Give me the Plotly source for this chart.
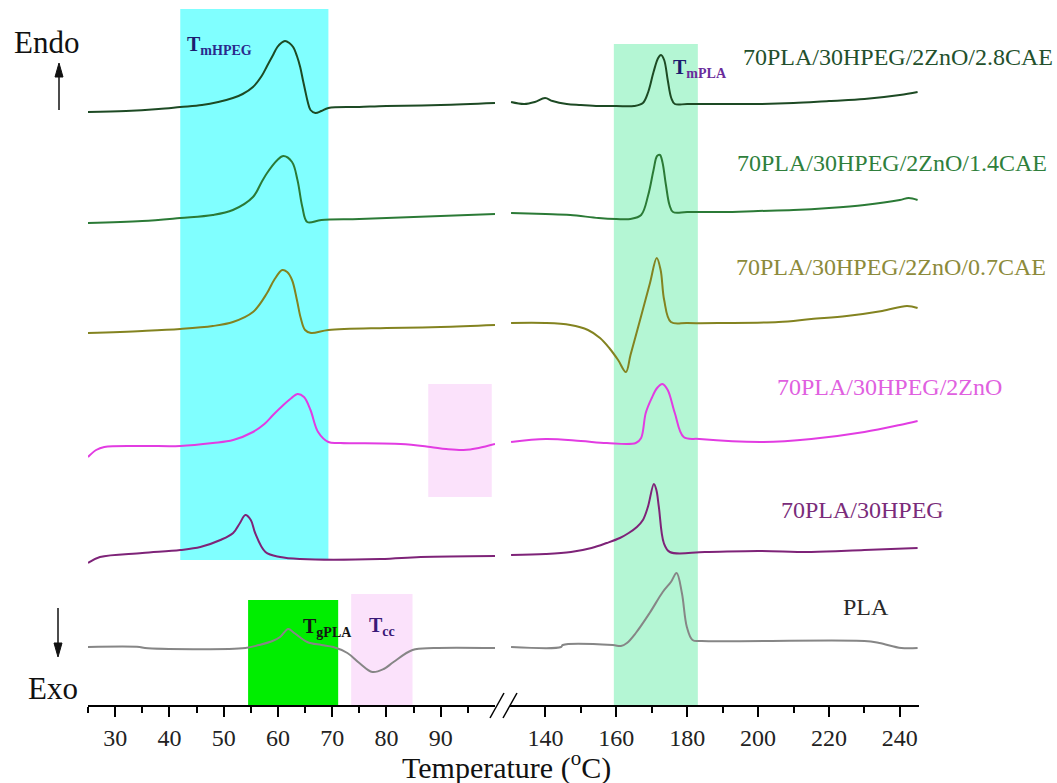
import plotly.graph_objects as go

W, H = 1057, 783

# ---- DSC heating curves (heat flow, a.u., stacked with vertical offsets) ----
# low-temperature segment (25-100 °C) and high-temperature segment (130-245 °C)

t_low_28cae = [25, 32, 38, 42, 46, 49, 51.7, 53.5, 55.4, 57, 58, 59, 59.9, 60.6, 61.3, 62.1, 62.8,
               63.5, 64.1, 64.6, 65, 65.5, 66, 66.9, 68, 69.3, 75, 80, 90, 100]
hf_low_28cae = [59.3, 59.4, 59.6, 59.8, 60.0, 60.3, 60.7, 61.1, 61.8, 62.9, 63.9, 64.9, 65.8, 66.2,
                66.4, 66.2, 65.8, 64.9, 63.8, 62.5, 61.5, 60.3, 59.5, 59.2, 59.4, 59.7, 59.8, 59.9,
                60.0, 60.2]
t_high_28cae = [130.3, 134, 137, 139.9, 142, 146, 150, 155, 160, 165, 167.5, 169, 170.5, 171.8,
                172.6, 173.5, 174.5, 175.5, 176.5, 180, 190, 200, 210, 220, 230, 240, 245]
hf_high_28cae = [60.3, 60.1, 60.3, 60.7, 60.4, 60.1, 60.0, 59.9, 59.9, 59.9, 60.2, 61.3, 63.3, 64.7,
                 65.0, 64.5, 62.5, 60.7, 60.1, 60.1, 60.1, 60.1, 60.2, 60.4, 60.6, 61.0, 61.3]

t_low_14cae = [25, 35, 42, 48, 51.7, 55.4, 57, 58, 59.9, 61, 62.6, 63.6, 64.5, 65.4, 68, 75, 85, 100]
hf_low_14cae = [48.2, 48.4, 48.7, 49.0, 49.5, 50.8, 52.3, 53.2, 54.5, 54.9, 54.3, 52.5, 49.8, 48.3,
                48.5, 48.6, 48.8, 49.1]
t_high_14cae = [130.3, 140, 147, 155, 160, 164, 167, 169, 170.5, 171.5, 172.3, 173, 174, 175, 176,
                180, 190, 200, 210, 220, 230, 240, 242.5, 245]
hf_high_14cae = [49.2, 49.1, 49.0, 48.7, 48.6, 48.6, 49.0, 51.0, 53.5, 54.9, 55.0, 54.3, 52.0, 50.0,
                 49.3, 49.3, 49.3, 49.4, 49.5, 49.7, 50.0, 50.5, 50.7, 50.5]

t_low_07cae = [25, 35, 42, 48, 51.7, 55.4, 58, 59.3, 60.8, 61.7, 62.6, 63.5, 64.2, 65, 66.1, 69.3,
               80, 90, 100]
hf_low_07cae = [37.2, 37.4, 37.6, 37.9, 38.3, 39.3, 41.2, 42.5, 43.5, 43.3, 42.5, 40.5, 38.7, 37.5,
                37.2, 37.5, 37.7, 37.8, 38.0]
t_high_07cae = [130.3, 140, 147, 152, 155.4, 158, 160.5, 162.7, 164, 167, 169.5, 171.4, 172.5, 173.5,
                175.4, 180, 190, 205.8, 215, 225, 235, 242, 245]
hf_high_07cae = [38.2, 38.2, 38.0, 37.5, 36.7, 35.7, 34.5, 33.3, 35.0, 38.9, 42.2, 44.7, 43.5, 40.5,
                 38.3, 38.2, 38.2, 38.3, 38.6, 38.9, 39.4, 39.9, 39.7]

t_low_zno = [25, 26.5, 28, 35, 42, 48, 51.75, 55.4, 57.5, 59.1, 61, 62.5, 63.6, 64.8, 66, 67.4, 69.3,
             71.5, 82.6, 88.1, 91, 94.2, 97, 100]
hf_low_zno = [24.8, 25.5, 25.8, 25.9, 25.9, 26.2, 26.5, 27.3, 28.1, 29.0, 30.0, 30.7, 31.1, 30.8,
              29.5, 27.3, 26.3, 26.2, 26.1, 25.8, 25.6, 25.5, 25.7, 26.1]
t_high_zno = [130.3, 140.1, 150, 157.3, 165.5, 167, 168.3, 170, 171.5, 173, 174.5, 176.5, 179, 183.5,
              201.5, 215, 230, 240, 245]
hf_high_zno = [26.3, 26.6, 26.4, 26.2, 26.2, 26.7, 29.2, 30.7, 31.7, 32.1, 31.5, 29.2, 26.8, 26.6,
               26.3, 26.6, 27.3, 28.0, 28.4]

t_low_hpeg = [25, 27.2, 35, 42, 45.7, 49.4, 51.75, 53, 54, 55, 55.8, 57.7, 60.4, 64.1, 78.9, 86.3, 100]
hf_low_hpeg = [14.2, 14.8, 15.2, 15.5, 15.8, 16.5, 17.2, 18.2, 19.0, 18.5, 17.2, 15.3, 14.8, 14.6,
               14.6, 14.8, 14.9]
t_high_hpeg = [130.3, 140, 147.2, 153, 157.3, 161, 163.5, 165.8, 167.5, 168.9, 170.6, 171.3, 172,
               173.4, 175.1, 185, 200, 215, 230, 245]
hf_high_hpeg = [15.0, 15.1, 15.3, 15.7, 16.2, 16.7, 17.2, 17.8, 18.5, 19.8, 22.1, 21.5, 19.8, 16.2,
                15.3, 15.3, 15.4, 15.3, 15.5, 15.7]

t_low_pla = [25, 34.5, 35.5, 54, 56.5, 59, 60.4, 61.9, 63, 65.4, 68, 70.2, 72.8, 75, 77.4, 79.5,
             81.3, 84.8, 88.7, 100]
hf_low_pla = [5.8, 5.8, 5.7, 5.7, 6.0, 6.4, 6.8, 7.6, 7.2, 6.3, 6.0, 5.8, 5.2, 4.2, 3.3, 3.6, 4.3,
              5.5, 5.7, 5.7]
t_high_pla = [130.3, 144.4, 144.9, 159, 161.3, 163, 165.5, 169.4, 173.1, 175.4, 177, 178.5, 179.9,
              181.5, 184.1, 230, 234.2, 240.4, 245]
hf_high_pla = [5.8, 5.8, 6.0, 6.0, 5.9, 6.2, 7.2, 9.2, 11.3, 12.3, 13.2, 11.2, 7.8, 6.5, 6.4, 6.4,
               6.2, 5.7, 5.7]

sample_names = ["70PLA/30HPEG/2ZnO/2.8CAE", "70PLA/30HPEG/2ZnO/1.4CAE", "70PLA/30HPEG/2ZnO/0.7CAE",
                "70PLA/30HPEG/2ZnO", "70PLA/30HPEG", "PLA"]
line_colors = ["#1d4a24", "#2b7a36", "#838320", "#e23ce2", "#7e2378", "#868686"]
label_colors = ["#23502c", "#2f7f3c", "#8c8a3a", "#e060e0", "#7a2c7a", "#2a2a2a"]

# transition regions (°C ranges and heat-flow extent)
band_tm_hpeg = [42.0, 69.3, 14.5, 69.6]
band_tm_pla = [159.3, 183.0, 0.0, 66.1]
band_tg_pla = [54.5, 71.1, 0.0, 10.5]
band_tcc_zno = [87.7, 99.4, 20.8, 32.1]
band_tcc_pla = [73.5, 84.8, 0.0, 11.1]

low_ticks = [30, 40, 50, 60, 70, 80, 90]
low_minor = [25, 35, 45, 55, 65, 75, 85, 95]
high_ticks = [140, 160, 180, 200, 220, 240]
high_minor = [150, 170, 190, 210, 230]

SERIF = "Liberation Serif, Times New Roman, serif"

low_sets = [(t_low_28cae, hf_low_28cae), (t_low_14cae, hf_low_14cae), (t_low_07cae, hf_low_07cae),
            (t_low_zno, hf_low_zno), (t_low_hpeg, hf_low_hpeg), (t_low_pla, hf_low_pla)]
high_sets = [(t_high_28cae, hf_high_28cae), (t_high_14cae, hf_high_14cae),
             (t_high_07cae, hf_high_07cae), (t_high_zno, hf_high_zno),
             (t_high_hpeg, hf_high_hpeg), (t_high_pla, hf_high_pla)]

fig = go.Figure()
for i, name in enumerate(sample_names):
    (tl, hl), (th, hh) = low_sets[i], high_sets[i]
    style = dict(color=line_colors[i], width=2, shape="spline", smoothing=1.0)
    fig.add_trace(go.Scatter(x=tl, y=hl, mode="lines", line=style, xaxis="x", yaxis="y",
                             showlegend=False, hoverinfo="skip", name=name))
    fig.add_trace(go.Scatter(x=th, y=hh, mode="lines", line=style, xaxis="x2", yaxis="y",
                             showlegend=False, hoverinfo="skip", name=name))


def px(x):
    return x / W


def py(y):
    return (H - y) / H


shapes = []
for band, xr, color in [(band_tm_hpeg, "x", "rgb(128,255,255)"),
                        (band_tm_pla, "x2", "rgb(180,246,212)"),
                        (band_tg_pla, "x", "rgb(0,238,0)"),
                        (band_tcc_zno, "x", "rgb(251,226,251)"),
                        (band_tcc_pla, "x", "rgb(251,226,251)")]:
    shapes.append(dict(type="rect", xref=xr, yref="y", x0=band[0], x1=band[1], y0=band[2],
                       y1=band[3], fillcolor=color, line=dict(width=0), layer="below"))

# axis break marks
for x0 in (490, 503):
    shapes.append(dict(type="line", xref="paper", yref="paper", x0=px(x0), y0=py(718),
                       x1=px(x0 + 14), y1=py(693), line=dict(color="black", width=1.5)))


# Endo (up) / Exo (down) arrows
def arrow(x, tail, tip):
    head = 14 if tip < tail else -14
    return [
        dict(type="line", xref="paper", yref="paper", x0=px(x), y0=py(tail), x1=px(x),
             y1=py(tip + head * 0.6), line=dict(color="#111", width=1.5)),
        dict(type="path", xref="paper", yref="paper",
             path=f"M {px(x)} {py(tip)} L {px(x - 4)} {py(tip + head)} "
                  f"L {px(x + 4)} {py(tip + head)} Z",
             fillcolor="#111", line=dict(color="#111", width=1)),
    ]


shapes += arrow(59, 110, 63)
shapes += arrow(58, 608, 657)

annotations = []
label_pos = [(741, 57), (735, 163), (734, 267), (775, 387), (779, 510), (841, 607)]
for (lx, ly), name, col in zip(label_pos, sample_names, label_colors):
    annotations.append(dict(x=px(lx), y=py(ly), xref="paper", yref="paper", text=name,
                            showarrow=False, xanchor="left", yanchor="middle",
                            font=dict(family=SERIF, size=24, color=col)))


# transition labels
def tlabel(x, y, sub, c_main, c_sub):
    return dict(x=px(x), y=py(y), xref="paper", yref="paper", showarrow=False,
                xanchor="left", yanchor="middle",
                text=f"<b><span style='color:{c_main}'>T</span>"
                     f"<sub><span style='color:{c_sub}'>{sub}</span></sub></b>",
                font=dict(family=SERIF, size=20, color=c_main))


annotations += [
    tlabel(185, 46, "mHPEG", "#1c1c6e", "#2a2a8c"),
    tlabel(671, 68, "mPLA", "#1c1c6e", "#6a2c9c"),
    tlabel(301, 627, "gPLA", "#151515", "#151515"),
    tlabel(367, 626, "cc", "#3a1a78", "#3a1a78"),
]

annotations += [
    dict(x=px(12), y=py(42), xref="paper", yref="paper", text="Endo", showarrow=False,
         xanchor="left", yanchor="middle", font=dict(family=SERIF, size=31, color="#111")),
    dict(x=px(26), y=py(688), xref="paper", yref="paper", text="Exo", showarrow=False,
         xanchor="left", yanchor="middle", font=dict(family=SERIF, size=31, color="#111")),
    dict(x=px(506), y=py(765), xref="paper", yref="paper",
         text="Temperature (<sup>o</sup>C)", showarrow=False, xanchor="center",
         yanchor="middle", font=dict(family=SERIF, size=30, color="#111")),
]

axis_common = dict(showline=True, linecolor="black", linewidth=2, ticks="outside", ticklen=10,
                   tickwidth=2, tickcolor="black", showgrid=False, zeroline=False,
                   tickfont=dict(family=SERIF, size=24, color="#222"), ticklabelstandoff=0,
                   anchor="y", fixedrange=True)

fig.update_layout(
    width=W, height=H,
    margin=dict(l=0, r=0, t=0, b=0),
    paper_bgcolor="white", plot_bgcolor="white",
    xaxis=dict(domain=[88 / W, 495 / W], range=[25, 100], tickmode="array",
               tickvals=low_ticks, ticktext=[str(v) for v in low_ticks],
               minor=dict(tickmode="array", tickvals=low_minor, ticks="outside", ticklen=6,
                          tickwidth=2, tickcolor="black"),
               **axis_common),
    xaxis2=dict(domain=[510 / W, 919 / W], range=[130, 245.4], tickmode="array",
                tickvals=high_ticks, ticktext=[str(v) for v in high_ticks],
                minor=dict(tickmode="array", tickvals=high_minor, ticks="outside", ticklen=6,
                           tickwidth=2, tickcolor="black"),
                **axis_common),
    yaxis=dict(domain=[(H - 705) / H, (H - 5) / H], range=[0, 70], visible=False,
               fixedrange=True),
    shapes=shapes,
    annotations=annotations,
)

fig.write_html("out.html")
